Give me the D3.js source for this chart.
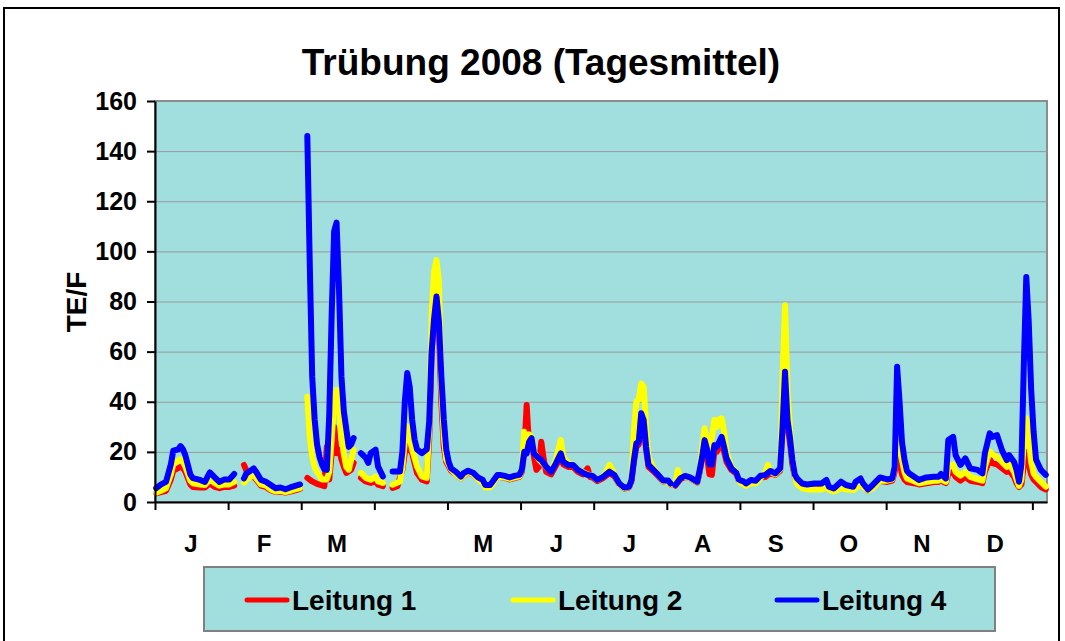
<!DOCTYPE html>
<html>
<head>
<meta charset="utf-8">
<script src="https://cdn.jsdelivr.net/npm/d3@7"></script>
<style>
  body { margin: 0; background: #fff; }
  text { font-family: "Liberation Sans", Arial, sans-serif; font-weight: bold; }
</style>
</head>
<body>
<div id="chart"></div>
<script>
// daily means, [day of year, TE/F]; null = no data
var leitung1 = [
  [0,3.5],[2,4],[4,4.5],[6,9],[7,12.5],[9,13.5],[10,14],[11,13.5],[12,12],[14,7],[15,6],[18,5.8],[20,5.8],[22,7.5],[24,6],[26,5.5],[28,6],[30,6],[32,6.5],[34,null],
  [36,14.8],[37,12.5],[38,10.5],[40,10],[41,9],[43,6.5],[45,6],[47,4.7],[49,4],[51,4.2],[53,3.8],[55,4.2],[57,4.7],[59,5.2],[60,null],
  [62,9.6],[64,8.2],[66,7.2],[67,6.9],[69,6.3],[70,22],[71,9],[72,19.5],[73,30],[74,19.5],[75,20.9],[76,17],[77,14],[78,11.6],[80,12.9],[81,15.6],[82,null],
  [84,9.6],[86,8.2],[88,7.6],[90,8.2],[91,6.9],[93,6.3],[95,null],
  [97,5.6],[99,6.3],[101,12.9],[103,26.2],[104,21],[105,19.5],[107,11.6],[109,8.9],[111,8.2],[112,25],[113,59],[114,75],[115,82],[116,70],[117,39.5],[118,22],[119,16],
  [121,12.5],[123,11],[125,9.5],[126,10.5],[128,11.8],[130,11],[132,9.2],[134,7.8],[135,6.3],[137,6.3],[138,7.5],[140,10],[141,10],[143,9.7],[145,9],[147,9.5],[149,10],
  [150,12],[151,20],[152,38.7],[153,22],[154,24],[155,18],[156,12.8],[157,14],[158,24],[159,17],[160,12],[162,11],[164,14.5],[166,18],[167,15],[169,14],[171,14],[173,12],
  [175,11],[177,13.4],[178,10],[179,9.8],[181,8.3],[183,9.3],[184,10],[186,11.5],[188,10.3],[190,7],[192,5.4],[194,5.8],[195,8.3],[196,16],[197,22],[198,23],[199,34],
  [200,31],[201,21],[202,14],[204,12.3],[206,10.3],[208,8.2],[210,8.2],[211,7],[212,null],
  [213,6.5],[215,9],[217,10],[219,9.5],[222,7.8],[223,12],[224,18],[225,22],[226,18],[227,11],[228,10.8],[229,20],[230,20],[231,22],[232,24],[233,20],[234,16],[236,12.8],
  [238,11.3],[239,8.5],[240,8],[241,7.5],[242,6.8],[244,8],[246,7.8],[248,9.8],[250,10],[252,11.5],[254,10.8],[256,12.5],[257,30],[258,45],[259,30],[260,24],[261,15],
  [262,10],[263,7.5],[265,6],[267,5.5],[270,6],[273,6],[275,7],[276,5],[278,4.5],[281,6.5],[283,5.8],[286,5.3],[287,6.5],[289,7.5],[290,6.5],[292,4.5],[294,6],[297,8.5],
  [300,8],[302,8.5],[303,12],[304,19.4],[305,16],[306,11],[307,9],[308,8],[311,7.5],[313,7],[316,7.5],[319,8],[321,8],[322,8.5],[324,7.5],[325,11.4],[327,12],[328,10],
  [330,8.5],[332,10],[334,8.5],[337,8],[339,7.5],[340,12],[342,17],[343,15.5],[345,15],[347,13.5],[349,12],[350,12.5],[352,10],[353,7.5],[354,6],[355,7],[356,15],
  [357,20],[358,15],[359,11],[360,9],[361,8],[363,6],[365,5]
];

var leitung2 = [
  [0,3.7],[2,4.5],[4,5.5],[6,11],[7,15],[9,16.5],[10,17],[11,16],[12,14],[14,8.5],[15,7.5],[18,7],[20,6.8],[22,9],[24,7.5],[26,6.5],[28,7],[30,7],[32,8],[34,null],
  [36,7.7],[37,9],[40,10.8],[41,9.5],[43,7],[45,6.5],[47,5],[49,4.2],[51,4.5],[53,4],[55,4.5],[57,5],[59,5.5],[60,null],
  [62,42],[63,26],[64,18],[65,14],[66,12],[68,9],[70,9],[71,12],[72,25],[73,40],[74,44.8],[75,38],[76,26],[77,19],[78,14],[79,12.9],[80,16.9],[81,20.9],[82,null],
  [84,11.6],[86,9.6],[88,8.9],[90,10.2],[91,8.2],[93,7.6],[95,null],
  [97,6.9],[100,8.2],[101,14],[102,24],[103,30.2],[104,26],[105,21],[107,14.2],[109,10.2],[111,9.6],[112,30],[113,75],[114,92],[115,96.5],[116,88],[117,46],[118,26],[119,17],
  [121,13],[123,11],[125,9.5],[126,10.5],[128,12],[130,11],[132,9],[134,7.5],[135,5.8],[137,5.8],[138,7],[140,10],[141,10],[143,9.8],[145,9.2],[147,9.8],[149,10.2],
  [150,13],[151,28],[152,22],[153,27],[154,26],[155,20],[157,17],[158,16],[160,14],[162,12.5],[164,17],[166,24.7],[167,18],[169,15.5],[171,14.8],[173,13],[175,12],
  [177,11],[179,10.4],[181,8.8],[183,10],[184,11],[186,14.8],[188,11],[190,7],[192,5.6],[194,6],[195,10],[196,28],[197,40],[198,41],[199,47.3],[200,46],[201,30],
  [202,18],[204,13.5],[206,11],[208,8.3],[210,8],[211,7],[212,null],
  [213,7],[214,12.8],[215,10],[217,10],[219,9.5],[222,8],[223,13],[224,22],[225,29.4],[226,24],[227,22],[228,26],[229,32.7],[230,30],[231,33],[232,33.4],[233,28],
  [234,20],[236,14],[238,12],[239,8.5],[240,7.5],[241,7],[242,6.5],[244,7.5],[246,7.5],[248,9.5],[250,12],[251,14.8],[252,12],[254,11],[256,13],[257,50],[258,78.5],
  [259,45],[260,30],[261,18],[262,10],[263,7],[265,5.5],[267,5],[270,5],[273,5],[275,6],[276,4.8],[278,4.2],[281,5.5],[283,5],[286,4.8],[287,5.5],[289,7],[290,6],
  [292,4.5],[294,5.5],[297,8.5],[300,8.5],[302,9],[303,14],[304,30],[305,24],[306,16.7],[307,12],[308,9.4],[311,8.3],[313,7.5],[316,8],[319,8.5],[321,8.5],[322,9],
  [324,8],[325,14.1],[327,15],[328,12],[330,10.5],[332,12],[334,10],[337,9],[339,8.5],[340,14],[342,20.2],[343,19],[345,18],[347,16],[349,14],[350,15],[352,12],
  [353,9],[354,6.4],[355,9],[356,25],[357,33.4],[358,25],[359,16],[360,11.4],[361,10],[363,8],[365,6.1]
];

var leitung4 = [
  [0,5.5],[2,7],[4,8],[6,15],[7,20.5],[9,21],[10,22.3],[11,21],[12,18.5],[14,11],[15,9.5],[18,8.8],[20,8],[21,10],[22,11.8],[24,9.8],[26,8],[28,9],[30,9],[32,11.2],[34,null],
  [36,9.4],[37,11.4],[40,13.4],[41,12],[43,8.8],[45,8.1],[47,6.8],[49,5.5],[51,5.8],[53,5.1],[55,5.8],[57,6.4],[59,7],[60,null],
  [62,146],[63,95],[64,50],[65,33],[66,23],[67,18],[68,15],[69,13],[70,12.8],[71,35],[72,75],[73,108],[74,111.5],[75,85],[76,50],[77,36],[78,29],[79,22],[80,23],[81,25.5],[82,null],
  [84,19.5],[86,17.6],[87,15.6],[88,19.5],[90,20.9],[91,14.2],[93,10.2],[95,null],
  [97,12.2],[100,12.2],[101,20],[102,40],[103,51.5],[104,46],[105,33],[106,25],[107,21],[109,19.5],[111,21],[112,32],[113,60],[114,73],[115,82],[116,72],[117,50],
  [118,33],[119,21],[120,16],[121,13.4],[123,12],[125,10.1],[126,11.4],[128,12.5],[130,11.7],[132,9.8],[134,8.8],[135,6.8],[137,6.8],[138,8.1],[140,10.8],[141,10.8],
  [143,10.4],[145,9.8],[147,10.4],[149,10.8],[150,12.8],[151,20],[152,19.4],[153,24],[154,25.5],[155,19.4],[157,17.4],[158,16.8],[160,14.1],[162,12],[164,15.4],
  [166,19.4],[167,16],[169,14.8],[171,14.8],[173,12.8],[175,11.7],[177,10.8],[179,10.4],[181,8.8],[183,9.8],[184,10.5],[186,12.1],[188,10.8],[190,7.4],[192,5.8],
  [194,6.1],[195,8.8],[196,16.7],[197,23.4],[198,24],[199,35.4],[200,32.7],[201,22],[202,14.8],[204,12.8],[206,10.8],[208,8.6],[210,8.6],[211,7.4],[212,null],
  [213,6.8],[215,9.4],[217,10.4],[219,9.8],[222,8.1],[223,12.8],[224,18],[225,24.7],[226,21],[227,15],[228,15],[229,22.7],[230,22],[231,24],[232,26],[233,22],[234,17.4],
  [236,13.4],[238,11.7],[239,9],[240,8.5],[241,8.2],[242,7.4],[244,8.8],[246,8.5],[248,10.5],[250,10.8],[252,12.4],[254,11.4],[256,13.4],[257,30],[258,52],[259,33],
  [260,26],[261,17],[262,11],[263,9.3],[265,7.4],[267,7],[270,7.4],[273,7.4],[275,8.8],[276,6.1],[278,5.4],[281,8.1],[283,6.8],[286,6.1],[287,8.1],[289,9.4],[290,7.4],
  [292,5],[294,6.8],[297,9.8],[300,9],[302,9.4],[303,14],[304,54],[305,40],[306,24],[307,17],[308,12.5],[309,11.4],[311,10.1],[313,8.8],[316,9.8],[319,10.1],[321,10.1],
  [322,11.2],[324,9.4],[325,24.7],[327,26],[328,18.7],[330,14.8],[332,17.4],[334,13.4],[337,12.8],[339,11.4],[340,19.4],[342,27.4],[343,26],[345,26.7],[347,20.7],
  [349,16.7],[350,18.7],[352,16],[353,12.8],[354,8.1],[355,15],[356,55],[357,89.8],[358,72],[359,45],[360,28],[361,17],[363,12.8],[365,10.8]
];

var seriesNames = ["Leitung 1", "Leitung 2", "Leitung 4"];
var seriesColors = ["#ff0000", "#ffff00", "#0000ff"];
var yTicks = [0, 20, 40, 60, 80, 100, 120, 140, 160];
var monthLabels = ["J", "F", "M", "", "M", "J", "J", "A", "S", "O", "N", "D"];

var width = 1065;
var height = 641;
var plotLeft = 155, plotRight = 1047, plotTop = 101, plotBottom = 502;
var cyan = "#a1dfdf";

var svg = d3.select("#chart")
  .append("svg")
  .attr("width", width)
  .attr("height", height);

// outer frame
svg.append("rect")
  .attr("x", 4).attr("y", 8)
  .attr("width", 1055).attr("height", 660)
  .attr("fill", "#fff")
  .attr("stroke", "#000")
  .attr("stroke-width", 2);

var x = d3.scaleLinear().domain([0, 366]).range([plotLeft, plotRight]);
var y = d3.scaleLinear().domain([0, 160]).range([plotBottom, plotTop]);

// plot area
svg.append("rect")
  .attr("x", plotLeft).attr("y", plotTop)
  .attr("width", plotRight - plotLeft).attr("height", plotBottom - plotTop)
  .attr("fill", cyan)
  .attr("stroke", "#8c8c8c")
  .attr("stroke-width", 2);

// gridlines
svg.append("g")
  .attr("transform", "translate(" + plotLeft + ",0)")
  .call(d3.axisLeft(y).tickValues(yTicks.slice(1, -1)).tickSize(-(plotRight - plotLeft)).tickFormat(""))
  .call(function (g) { g.select(".domain").remove(); })
  .selectAll("line")
  .attr("stroke", "#999")
  .attr("stroke-width", 1);

// series
var line = d3.line()
  .defined(function (d) { return d[1] != null; })
  .x(function (d) { return x(d[0] + 0.5); })
  .y(function (d) { return y(d[1]); });

[leitung1, leitung2, leitung4].forEach(function (data, i) {
  svg.append("path")
    .datum(data)
    .attr("d", line)
    .attr("fill", "none")
    .attr("stroke", seriesColors[i])
    .attr("stroke-width", 6)
    .attr("stroke-linejoin", "round")
    .attr("stroke-linecap", "round");
});

// y axis
var yAxis = svg.append("g")
  .attr("transform", "translate(" + plotLeft + ",0)")
  .call(d3.axisLeft(y).tickValues(yTicks).tickSize(8).tickSizeOuter(0).tickPadding(10));
yAxis.select(".domain").attr("stroke", "#000").attr("stroke-width", 2);
yAxis.selectAll("line").attr("stroke", "#000").attr("stroke-width", 2);
yAxis.selectAll("text").attr("font-size", 25).attr("fill", "#000");

// x axis: ticks every 30 days, labels in between
var xAxis = svg.append("g")
  .attr("transform", "translate(0," + plotBottom + ")")
  .call(d3.axisBottom(x).tickValues(d3.range(0, 361, 30)).tickSize(8).tickSizeOuter(0).tickFormat(""));
xAxis.select(".domain").attr("stroke", "#000").attr("stroke-width", 2);
xAxis.selectAll("line").attr("stroke", "#000").attr("stroke-width", 2);

var labelDays = monthLabels.map(function (m, i) { return 14.5 + i * 30; });
var xLabels = svg.append("g")
  .attr("transform", "translate(0," + plotBottom + ")")
  .call(d3.axisBottom(x).tickValues(labelDays).tickSize(0).tickPadding(33)
    .tickFormat(function (d, i) { return monthLabels[i]; }));
xLabels.select(".domain").remove();
xLabels.selectAll("text").attr("font-size", 24).attr("fill", "#000");

// titles
svg.append("text")
  .attr("x", 541).attr("y", 75)
  .attr("text-anchor", "middle")
  .attr("font-size", 37)
  .text("Trübung 2008 (Tagesmittel)");

svg.append("text")
  .attr("transform", "translate(86,302) rotate(-90)")
  .attr("text-anchor", "middle")
  .attr("font-size", 28)
  .text("TE/F");

// legend
var legend = svg.append("g");
legend.append("rect")
  .attr("x", 204).attr("y", 567)
  .attr("width", 791).attr("height", 64)
  .attr("fill", cyan)
  .attr("stroke", "#808080")
  .attr("stroke-width", 2);

var legendX = [247, 513, 777];
seriesNames.forEach(function (name, i) {
  legend.append("line")
    .attr("x1", legendX[i]).attr("x2", legendX[i] + 40)
    .attr("y1", 600).attr("y2", 600)
    .attr("stroke", seriesColors[i])
    .attr("stroke-width", 5)
    .attr("stroke-linecap", "round");
  legend.append("text")
    .attr("x", legendX[i] + 45).attr("y", 610)
    .attr("font-size", 28)
    .text(name);
});
</script>
</body>
</html>
